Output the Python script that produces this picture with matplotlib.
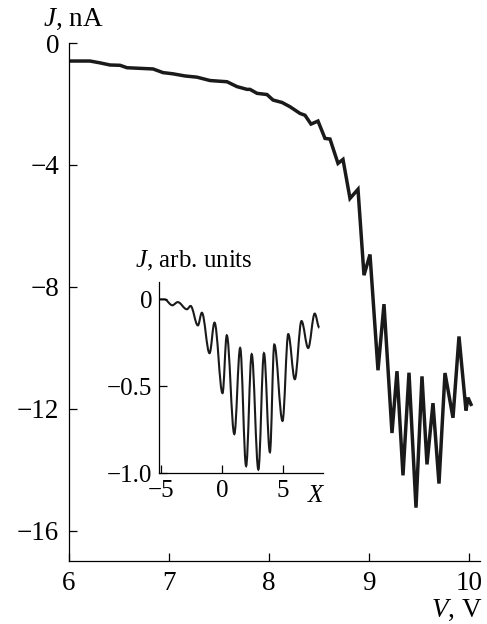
import numpy as np
import matplotlib.pyplot as plt
from matplotlib.path import Path
from matplotlib.patches import PathPatch

plt.rcParams['font.family'] = 'Liberation Serif'
plt.rcParams['mathtext.fontset'] = 'custom'
plt.rcParams['mathtext.rm'] = 'Liberation Serif'
plt.rcParams['mathtext.it'] = 'Liberation Serif:italic'

# main curve J(V)
V = [6.01, 6.21, 6.31, 6.41, 6.51, 6.58, 6.84, 6.94, 7.04, 7.16, 7.28, 7.41, 7.58, 7.68,
     7.78, 7.81, 7.88, 7.98, 8.04, 8.13, 8.21, 8.31, 8.36, 8.42, 8.49, 8.56, 8.61, 8.69,
     8.74, 8.81, 8.89, 8.95, 9.01, 9.09, 9.15, 9.23, 9.28, 9.34, 9.40, 9.47, 9.53, 9.58,
     9.64, 9.70, 9.76, 9.84, 9.90, 9.97, 9.99, 10.02]
J = [-0.59, -0.59, -0.65, -0.72, -0.73, -0.81, -0.85, -0.97, -1.01, -1.08, -1.12, -1.23,
     -1.27, -1.43, -1.52, -1.52, -1.65, -1.69, -1.87, -1.95, -2.09, -2.31, -2.37, -2.66,
     -2.56, -3.13, -3.15, -3.95, -3.82, -5.10, -4.80, -7.62, -6.94, -10.74, -8.57, -12.80,
     -10.77, -14.19, -10.82, -15.25, -10.94, -13.83, -11.82, -14.46, -10.83, -12.30, -9.63,
     -12.06, -11.64, -11.86]

# inset: extrema of J(X), arb. units
X_in = [-5.2, -4.75, -4.1, -3.66, -2.9, -2.6, -2.0, -1.67, -1.04, -0.63, 0.03, 0.38, 1.0,
        1.48, 1.97, 2.43, 2.98, 3.44, 3.93, 4.29, 4.97, 5.44, 5.98, 6.53, 7.08, 7.62, 8.0]
J_in = [0.0, 0.0, -0.034, -0.016, -0.057, -0.038, -0.15, -0.077, -0.31, -0.134, -0.54,
        -0.207, -0.776, -0.28, -0.96, -0.316, -0.98, -0.31, -0.88, -0.26, -0.70, -0.2,
        -0.46, -0.125, -0.28, -0.082, -0.163]

fig = plt.figure(figsize=(4.87, 6.24), dpi=100)
ax = fig.add_axes([0.1417, 0.101, 0.8439, 0.830])
ax.plot(V, J, color='#1a1a1a', lw=2.5, solid_joinstyle='miter')
ax.set_xlim(6, 10.11)
ax.set_ylim(-17, 0)
ax.set_xticks([6, 7, 8, 9, 10])
ax.set_yticks([0, -4, -8, -12, -16])
for s in ['top', 'right']:
    ax.spines[s].set_visible(False)
for s in ['left', 'bottom']:
    ax.spines[s].set_linewidth(0.9)
ax.tick_params(direction='in', length=6, width=0.9, labelsize=19.5, pad=7)

fig.text(43/487, 1-26/624, '$J$, nA', fontsize=19.5, va='baseline', ha='left')
fig.text(482/487, 1-617/624, '$V$, V', fontsize=19.5, va='baseline', ha='right')

# inset
ins = fig.add_axes([159/487, 1-473/624, 164/487, 191/624])
verts = [(X_in[0], J_in[0])]
codes = [Path.MOVETO]
for i in range(len(X_in)-1):
    x0, y0, x1, y1 = X_in[i], J_in[i], X_in[i+1], J_in[i+1]
    dx = x1 - x0
    verts += [(x0 + dx*0.36, y0), (x1 - dx*0.36, y1), (x1, y1)]
    codes += [Path.CURVE4]*3
ins.add_patch(PathPatch(Path(verts, codes), fill=False, ec='#1a1a1a', lw=1.5))
ins.set_xlim(-5.2, 8.3)
ins.set_ylim(-1.0, 0.1)
ins.set_xticks([-5, 0, 5])
ins.set_yticks([0, -0.5, -1.0])
ins.set_yticklabels(['0', '\u22120.5', '\u22121.0'])
ins.patch.set_alpha(0)
for s in ['top', 'right']:
    ins.spines[s].set_visible(False)
for s in ['left', 'bottom']:
    ins.spines[s].set_linewidth(0.9)
ins.tick_params(direction='in', length=6, width=0.9, labelsize=18, pad=5)
fig.text(316/487, 1-502/624, '$X$', fontsize=18, va='baseline', ha='center')
fig.text(135/487, 1-267/624, '$J$, arb. units', fontsize=18, va='baseline', ha='left')

fig.savefig('out.png', dpi=100)
